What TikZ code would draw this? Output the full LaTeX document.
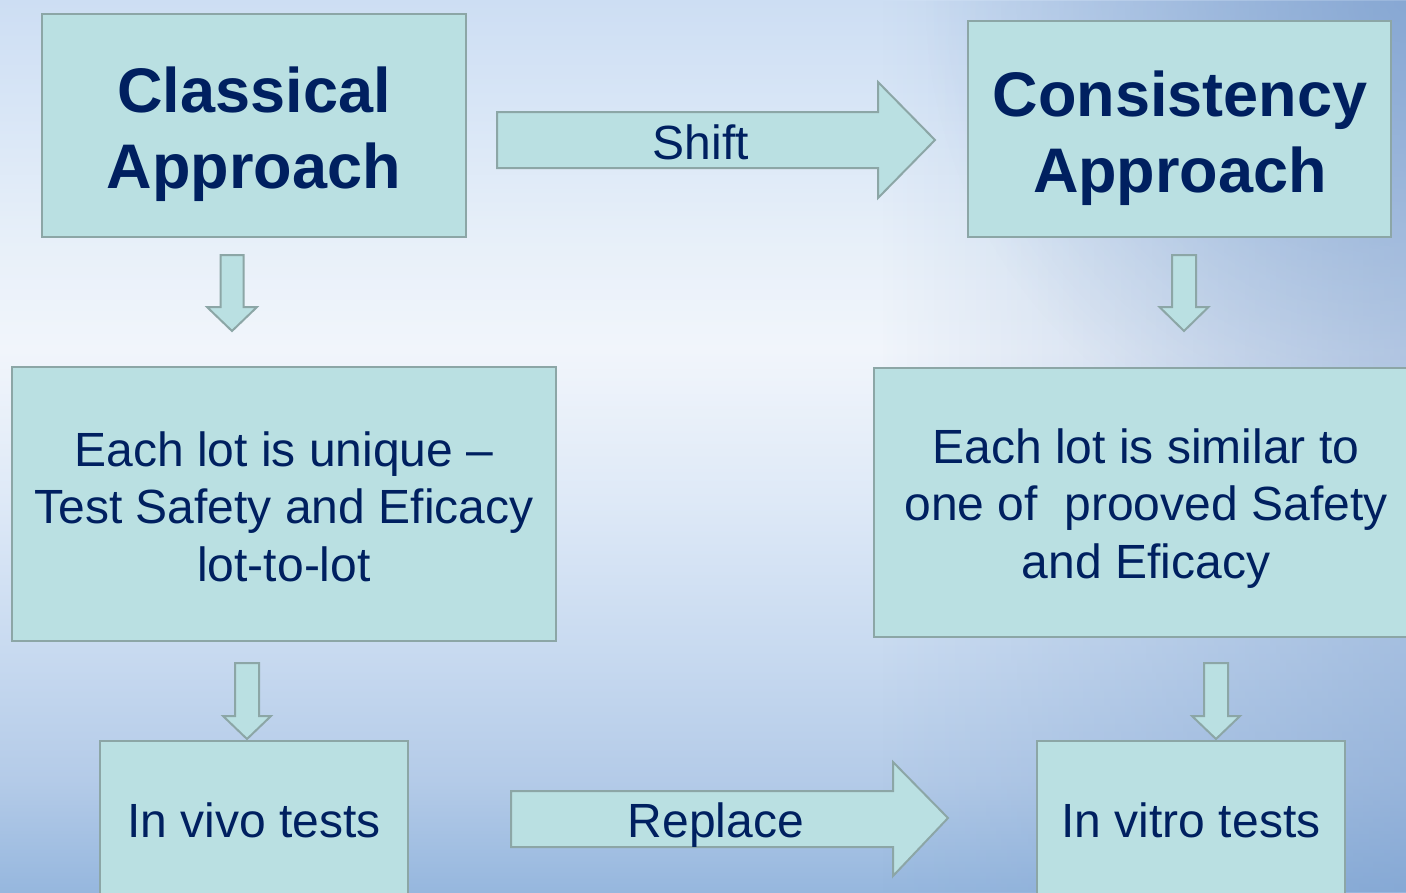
\documentclass[tikz,border=0pt]{standalone}
\usepackage{fontspec}
\setmainfont{Liberation Sans}
\usetikzlibrary{fadings}
\definecolor{navy}{RGB}{0,32,96}
\definecolor{boxfill}{RGB}{186,224,226}
\definecolor{boxline}{RGB}{140,166,166}
\definecolor{bgA}{RGB}{150,183,222}
\definecolor{bgB}{RGB}{180,203,232}
\definecolor{bgC}{RGB}{200,218,240}
\definecolor{bgD}{RGB}{222,233,247}
\definecolor{bgE}{RGB}{241,245,251}
\definecolor{bgF}{RGB}{232,240,249}
\definecolor{bgG}{RGB}{215,229,246}
\definecolor{bgH}{RGB}{205,222,243}
\definecolor{bgdark}{RGB}{110,148,200}
\pgfdeclareverticalshading{skyshade}{100bp}{%
  color(0bp)=(bgA); color(25bp)=(bgA); color(31.3bp)=(bgB);
  color(38.6bp)=(bgC); color(47bp)=(bgD); color(55.4bp)=(bgE);
  color(61bp)=(bgF); color(69.4bp)=(bgG); color(75bp)=(bgH); color(100bp)=(bgH)}
\tikzfading[name=softcircle, inner color=transparent!0, outer color=transparent!100]
\newcommand{\myDownArrow}[7]{% name, cx, shaft half, head half, top, headtop, tip
  \draw[barrow] (#2-#3,#5) -- (#2+#3,#5) -- (#2+#3,#6) -- (#2+#4,#6) -- (#2,#7)
    -- (#2-#4,#6) -- (#2-#3,#6) -- cycle;
  \coordinate (#1) at (#2,#7);}
\tikzset{
  box/.style={draw=boxline, fill=boxfill, line width=2.5pt,
    inner sep=0pt, outer sep=0pt},
  bigtxt/.style={text=navy, align=center, inner sep=0pt,
    font=\fontsize{63}{76}\selectfont\bfseries},
  normtxt/.style={text=navy, align=center, inner sep=0pt,
    font=\fontsize{48}{57.6}\selectfont},
  barrow/.style={draw=boxline, fill=boxfill, line width=2pt, line join=miter}
}
\begin{document}
\begin{tikzpicture}[x=1pt,y=-1pt]
\useasboundingbox (0,0) rectangle (1406,892);
\clip (0,0) rectangle (1406,892);
% background
\shade[shading=skyshade] (0,0) rectangle (1406,892);
\fill[bgdark, path fading=west, opacity=0.4] (880,0) rectangle (1406,892);
\fill[bgdark, path fading=softcircle, opacity=0.55] (1406,0) circle (480);

% boxes
\node[box, minimum width=424, minimum height=223] (classical) at (254,125.5) {};
\node[box, minimum width=423, minimum height=216] (consist) at (1179.5,129) {};
\node[box, minimum width=544, minimum height=274] (unique) at (284,504) {};
\node[box, minimum width=544, minimum height=269] (similar) at (1146,502.5) {};
\node[box, minimum width=308, minimum height=158] (invivo) at (254,820) {};
\node[box, minimum width=308, minimum height=158] (invitro) at (1191,820) {};

\node[bigtxt] (classicalT) at ([yshift=-9pt]classical.center) {Classical\\Approach};
\node[bigtxt] (consistT) at ([yshift=-9pt,xshift=0.5pt]consist.center) {Consistency\\Approach};
\node[normtxt] (uniqueT) at ([yshift=-2.5pt]unique.center) {Each lot is unique –\\Test Safety and Eficacy\\lot-to-lot};
\node[normtxt] (similarT) at ([yshift=-6pt]similar.center) {Each lot is similar to\\one of\ \ prooved Safety\\and Eficacy};
\node[normtxt] (invivoT) at (invivo.center) {In vivo tests};
\node[normtxt] (invitroT) at (invitro.center) {In vitro tests};

% block arrows
\draw[barrow] (497,112) -- (878,112) -- (878,82) -- (935,140) -- (878,198) -- (878,168) -- (497,168) -- cycle;
\node[normtxt] (shift) at (701,142) {Shift};
\draw[barrow] (511,791) -- (893,791) -- (893,762) -- (948,818) -- (893,876) -- (893,847) -- (511,847) -- cycle;
\node[normtxt] (replace) at (716,825) {Replace};

\myDownArrow{a1}{232}{11.5}{25}{255}{307}{331}
\myDownArrow{a2}{1184}{12}{24.5}{255}{307}{331}
\myDownArrow{a3}{247}{12}{24}{663}{716}{739}
\myDownArrow{a4}{1216}{12}{24}{663}{716}{739}
\end{tikzpicture}
\end{document}
